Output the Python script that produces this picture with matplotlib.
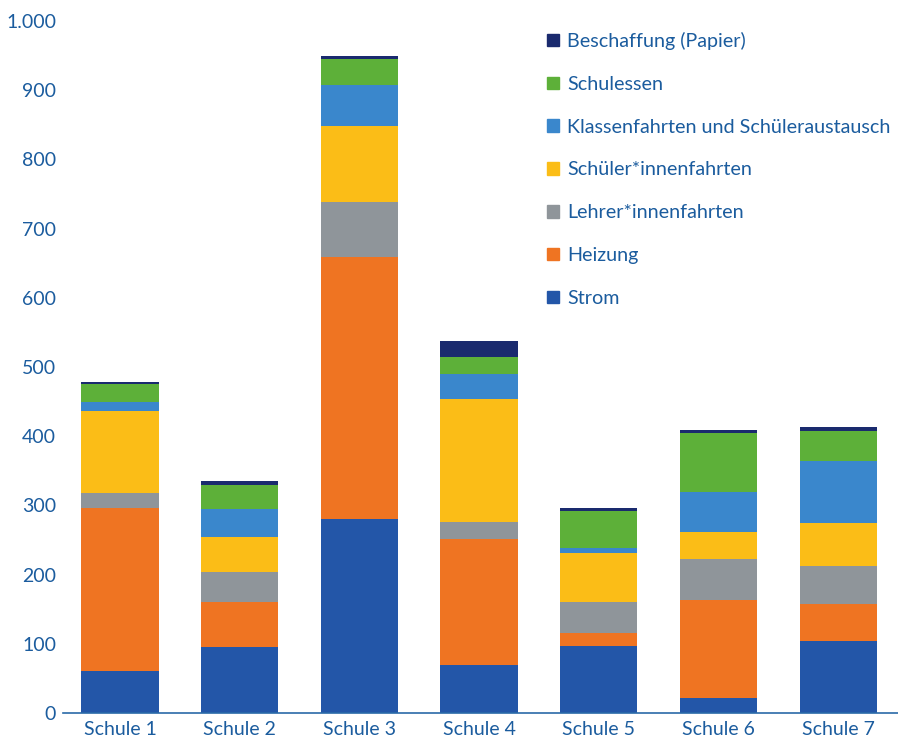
import numpy as np
import matplotlib.pyplot as plt
from matplotlib.patches import Patch

plt.rcParams['font.family'] = ['Lato', 'DejaVu Sans']

schulen = ['Schule 1', 'Schule 2', 'Schule 3', 'Schule 4', 'Schule 5', 'Schule 6', 'Schule 7']

strom       = [61, 95, 280, 70, 97, 21, 104]
heizung     = [235, 65, 379, 181, 19, 143, 54]
lehrer      = [22, 44, 79, 25, 45, 59, 54]
schueler    = [119, 50, 110, 178, 70, 39, 63]
klassen     = [13, 41, 59, 36, 7, 58, 89]
schulessen  = [25, 34, 38, 25, 54, 85, 44]
papier      = [4, 6, 4, 22, 4, 4, 6]

labels = ['Strom', 'Heizung', 'Lehrer*innenfahrten', 'Schüler*innenfahrten',
          'Klassenfahrten und Schüleraustausch', 'Schulessen', 'Beschaffung (Papier)']
colors = ['#2356a8', '#ef7422', '#8f959a', '#fbbd17', '#3a87cc', '#5db039', '#1a2a6e']
series = [strom, heizung, lehrer, schueler, klassen, schulessen, papier]

txt = '#1b5c9e'

fig = plt.figure(figsize=(8.98, 7.46), dpi=100)
ax = fig.add_axes([0.0702, 0.0442, 0.9298, 0.9276])

x = np.arange(len(schulen))
bottom = np.zeros(len(schulen))
for vals, lab, col in zip(series, labels, colors):
    ax.bar(x, vals, width=0.645, bottom=bottom, color=col, label=lab)
    bottom += np.array(vals)

ax.set_xlim(-0.476, 6.5)
ax.set_ylim(0, 1000)
ax.set_yticks(range(0, 1001, 100))
ax.set_yticklabels(['0', '100', '200', '300', '400', '500', '600', '700', '800', '900', '1.000'])
ax.set_xticks(x)
ax.set_xticklabels(schulen)
ax.tick_params(axis='both', length=0, labelsize=14, colors=txt)
ax.tick_params(axis='y', pad=5)
ax.tick_params(axis='x', pad=6)

for s in ['top', 'right', 'left']:
    ax.spines[s].set_visible(False)
ax.spines['bottom'].set_color('#2a6aa8')
ax.spines['bottom'].set_linewidth(1.2)

handles = [Patch(color=c) for c in colors][::-1]
leg = fig.legend(handles, labels[::-1], loc='upper left', bbox_to_anchor=(0.589, 0.981),
                 frameon=False, fontsize=14.2, handlelength=0.6, handleheight=0.6,
                 handletextpad=0.45, labelspacing=1.31)
for t in leg.get_texts():
    t.set_color(txt)

fig.savefig('out.png', dpi=100)
